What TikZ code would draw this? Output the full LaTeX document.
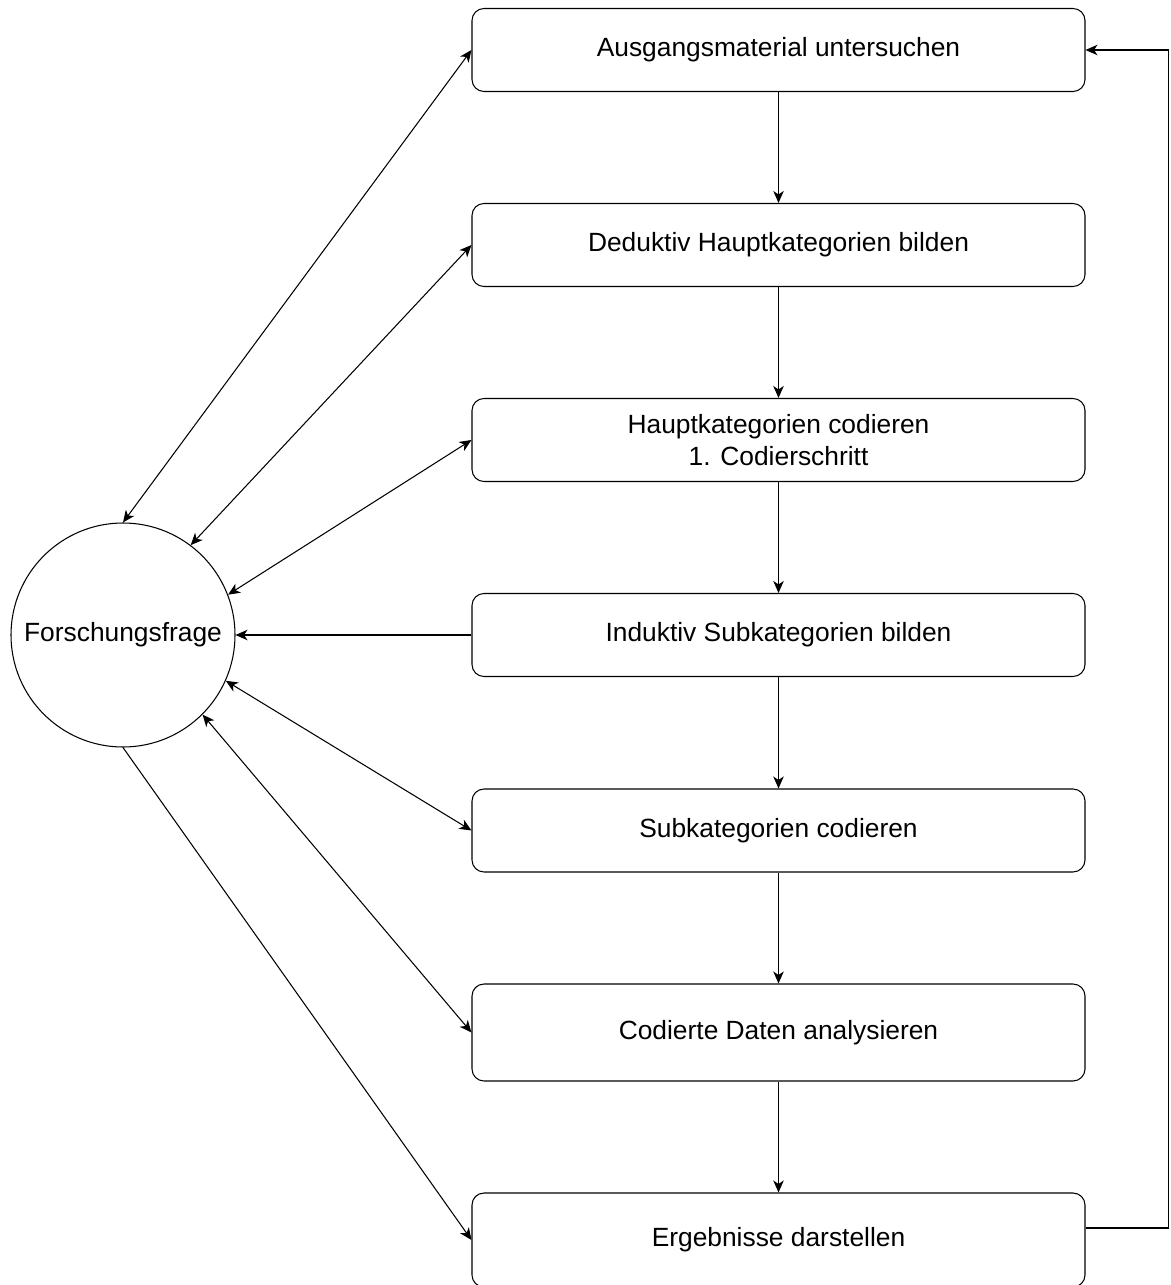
\documentclass[tikz,border=0pt]{standalone}
\usepackage{fontspec}
\setmainfont{Liberation Sans}
\usepackage{tikz}
\usetikzlibrary{arrows.meta, positioning, calc}

\begin{document}
\begin{tikzpicture}[
  every node/.style={font=\fontsize{15}{18}\selectfont},
  box/.style={draw, rounded corners=0.24cm, align=center, minimum width=12.26cm, minimum height=1.66cm, line width=0.6pt},
  frage/.style={draw, circle, minimum size=4.48cm, inner sep=0pt, line width=0.6pt},
  arrow/.style={-{Stealth[length=2.4mm, width=2.1mm, inset=0.7mm]}, line width=0.6pt},
  both/.style={{Stealth[length=2.4mm, width=2.1mm, inset=0.7mm]}-{Stealth[length=2.4mm, width=2.1mm, inset=0.7mm]}, line width=0.6pt}
]
\useasboundingbox (0,0) rectangle (23.4,-25.7);

% --- Research question ---
\node[frage] (frage) at (2.46,-12.7) {Forschungsfrage};

% --- Process steps ---
\node[box] (aus)  at (15.57,-1.0)  {Ausgangsmaterial untersuchen};
\node[box] (ded)  at (15.57,-4.9)  {Deduktiv Hauptkategorien bilden};
\node[box] (hcod) at (15.57,-8.8)  {Hauptkategorien codieren\\1. Codierschritt};
\node[box] (ind)  at (15.57,-12.7) {Induktiv Subkategorien bilden};
\node[box] (scod) at (15.57,-16.61) {Subkategorien codieren};
\node[box, minimum height=1.94cm] (ana) at (15.57,-20.65) {Codierte Daten analysieren};
\node[box, minimum height=1.88cm] (erg) at (15.57,-24.8) {Ergebnisse darstellen};

% --- Arrows down the chain ---
\draw[arrow] (aus.south)  -- (ded.north);
\draw[arrow] (ded.south)  -- (hcod.north);
\draw[arrow] (hcod.south) -- (ind.north);
\draw[arrow] (ind.south)  -- (scod.north);
\draw[arrow] (scod.south) -- (ana.north);
\draw[arrow] (ana.south)  -- (erg.north);

% --- Links to the research question ---
\draw[both]  (frage.90)   -- (aus.west);
\draw[both]  (frage.53)   -- (ded.west);
\draw[both]  (frage.21)   -- (hcod.west);
\draw[arrow] (ind.west)   -- (frage.east);
\draw[both]  (frage.-24)  -- (scod.west);
\draw[both]  (frage.-45)  -- (ana.west);
\draw[arrow] (frage.-90)  -- (erg.west);

% --- Feedback loop ---
\draw[arrow] ($(erg.east)+(0,0.24)$) -- ++(1.66,0) |- (aus.east);

\end{tikzpicture}
\end{document}
